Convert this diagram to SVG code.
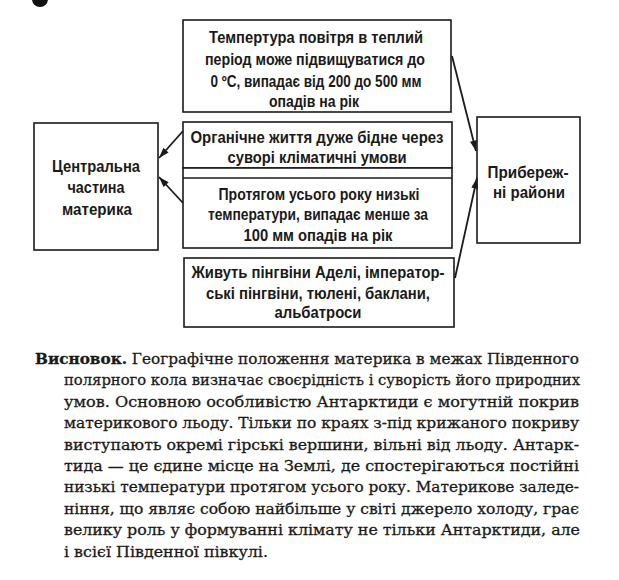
<svg xmlns="http://www.w3.org/2000/svg" width="619" height="580" viewBox="0 0 619 580">
<defs>
<style>
.box{fill:#fff;stroke:#1a1a1a;stroke-width:1.6}
.bt{font-family:"Liberation Sans","Noto Sans",Arial,sans-serif;font-size:16.5px;font-weight:bold;fill:#1a1a1a;text-anchor:middle}
.p{font-family:"DejaVu Serif","Liberation Serif",serif;font-size:15.5px;fill:#1a1a1a;stroke:#1a1a1a;stroke-width:0.3}
.pb{font-weight:bold}
.conn{stroke:#1a1a1a;stroke-width:1.8;fill:none;marker-end:url(#ah)}
</style>
<marker id="ah" viewBox="0 0 12 8" refX="12" refY="4" markerWidth="12" markerHeight="7" markerUnits="userSpaceOnUse" orient="auto">
<path d="M0,0 L12,4 L0,8 Z" fill="#1a1a1a"/>
</marker>
</defs>
<rect width="619" height="580" fill="#fff"/>
<circle cx="40" cy="-1" r="8" fill="#111"/>

<g id="top">
<rect class="box" x="183" y="20" width="268" height="92"/>
<text class="bt" x="316" y="43" textLength="214" lengthAdjust="spacingAndGlyphs">Темпертура повітря в теплий</text>
<text class="bt" x="315" y="65" textLength="220" lengthAdjust="spacingAndGlyphs">період може підвищуватися до</text>
<text class="bt" x="316" y="87" textLength="211" lengthAdjust="spacingAndGlyphs">0 ºC, випадає від 200 до 500  мм</text>
<text class="bt" x="314" y="107" textLength="90" lengthAdjust="spacingAndGlyphs">опадів на рік</text>
</g>

<g id="organic">
<rect class="box" x="183" y="122" width="269" height="46"/>
<text class="bt" x="317" y="143" textLength="253" lengthAdjust="spacingAndGlyphs">Органічне життя дуже бідне через</text>
<text class="bt" x="317" y="163" textLength="179" lengthAdjust="spacingAndGlyphs">суворі кліматичні умови</text>
</g>

<g id="lowtemp">
<rect class="box" x="183" y="168" width="269" height="80"/>
<line x1="183" y1="178" x2="452" y2="178" stroke="#1a1a1a" stroke-width="1.6"/>
<text class="bt" x="319" y="200" textLength="201" lengthAdjust="spacingAndGlyphs">Протягом усього року низькі</text>
<text class="bt" x="318" y="220" textLength="220" lengthAdjust="spacingAndGlyphs">температури, випадає менше за</text>
<text class="bt" x="318" y="241" textLength="149" lengthAdjust="spacingAndGlyphs">100 мм опадів на рік</text>
</g>

<g id="penguins">
<rect class="box" x="184" y="258" width="270" height="69"/>
<text class="bt" x="318" y="278" textLength="253" lengthAdjust="spacingAndGlyphs">Живуть пінгвіни Аделі, імператор-</text>
<text class="bt" x="318" y="299" textLength="224" lengthAdjust="spacingAndGlyphs">ські пінгвіни, тюлені, баклани,</text>
<text class="bt" x="318" y="318" textLength="87" lengthAdjust="spacingAndGlyphs">альбатроси</text>
</g>

<g id="central">
<rect class="box" x="34" y="123" width="124" height="127"/>
<text class="bt" x="96" y="172" textLength="88" lengthAdjust="spacingAndGlyphs">Центральна</text>
<text class="bt" x="96" y="193" textLength="57" lengthAdjust="spacingAndGlyphs">частина</text>
<text class="bt" x="97" y="215" textLength="70" lengthAdjust="spacingAndGlyphs">материка</text>
</g>

<g id="coastal">
<rect class="box" x="477" y="117" width="103" height="126"/>
<text class="bt" x="528" y="178" textLength="81" lengthAdjust="spacingAndGlyphs">Прибереж-</text>
<text class="bt" x="529" y="198" textLength="72" lengthAdjust="spacingAndGlyphs">ні райони</text>
</g>

<g id="connectors">
<line class="conn" x1="183" y1="131" x2="159" y2="158"/>
<line class="conn" x1="183" y1="203" x2="159" y2="177"/>
<line class="conn" x1="452" y1="56" x2="476" y2="151"/>
<line class="conn" x1="455" y1="278" x2="477" y2="178"/>
</g>

<g id="conclusion" class="p">
<text x="35" y="364" textLength="544" lengthAdjust="spacingAndGlyphs"><tspan class="pb">Висновок.</tspan> Географічне положення материка в межах Південного</text>
<text x="64" y="385.4" textLength="516" lengthAdjust="spacingAndGlyphs">полярного кола визначає своєрідність і суворість його природних</text>
<text x="64" y="406.8" textLength="515" lengthAdjust="spacingAndGlyphs">умов. Основною особливістю Антарктиди є могутній покрив</text>
<text x="64" y="428.2" textLength="515" lengthAdjust="spacingAndGlyphs">материкового льоду. Тільки по краях з-під крижаного покриву</text>
<text x="64" y="449.6" textLength="515" lengthAdjust="spacingAndGlyphs">виступають окремі гірські вершини, вільні від льоду.  Антарк-</text>
<text x="64" y="471" textLength="515" lengthAdjust="spacingAndGlyphs">тида — це єдине місце на Землі, де спостерігаються постійні</text>
<text x="64" y="492.4" textLength="515" lengthAdjust="spacingAndGlyphs">низькі температури протягом усього року. Материкове заледе-</text>
<text x="64" y="513.8" textLength="515" lengthAdjust="spacingAndGlyphs">ніння, що являє собою найбільше у світі джерело холоду, грає</text>
<text x="64" y="535.2" textLength="516" lengthAdjust="spacingAndGlyphs">велику роль у формуванні клімату не тільки Антарктиди, але</text>
<text x="64" y="556.6" textLength="204" lengthAdjust="spacingAndGlyphs">і всієї Південної півкулі.</text>
</g>
</svg>
